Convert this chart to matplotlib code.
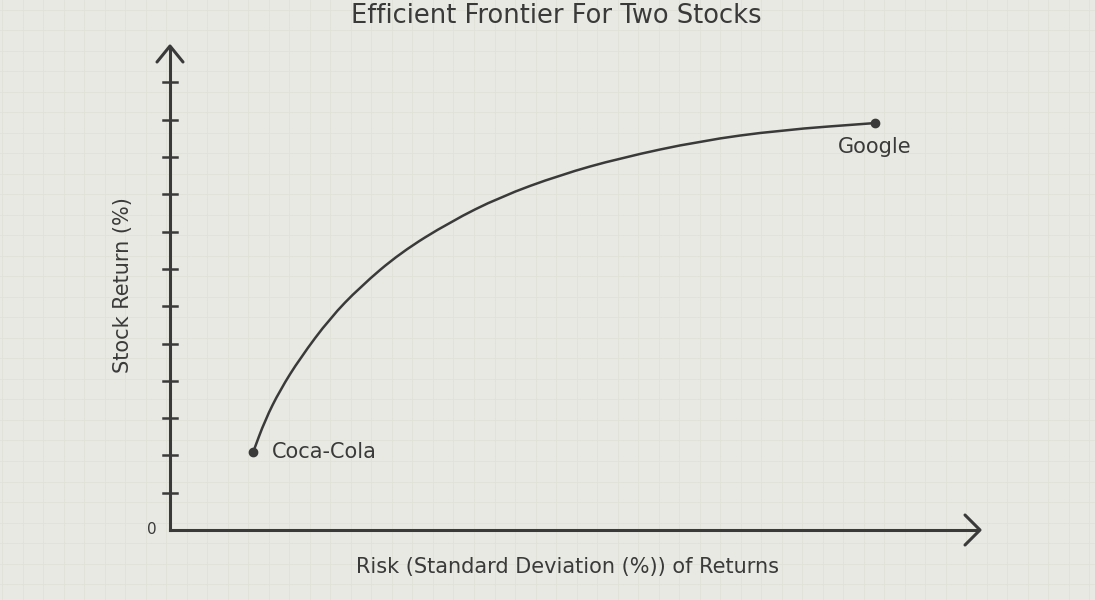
import matplotlib
matplotlib.use("Agg")
import matplotlib.pyplot as plt
from matplotlib.path import Path
from matplotlib.patches import PathPatch
import numpy as np

frontier_risk = [2.23, 2.55, 2.95, 3.49, 4.29, 5.09, 6.17, 7.51, 8.85, 10.46, 12.06, 14.21, 16.35, 18.9]
frontier_ret = [2.09, 2.95, 3.75, 4.61, 5.68, 6.51, 7.43, 8.26, 8.93, 9.52, 9.97, 10.43, 10.72, 10.91]
stock_names = ["Coca-Cola", "Google"]
y_ticks = list(range(1, 13))

S = 37.3
fig = plt.figure(figsize=(10.95, 6.0), dpi=100)
bg = "#e8e9e2"
fig.patch.set_facecolor(bg)
ax = fig.add_axes([0, 0, 1, 1])
ax.set_facecolor(bg)
ax.set_xlim(-170 / S, (1095 - 170) / S)
ax.set_ylim(-70 / S, 530 / S)
ax.axis("off")

for gx in np.arange(-4.5, 25, 0.55):
    ax.axvline(gx, color="#e0e1d9", lw=0.6, zorder=0)
for gy in np.arange(-2, 14.5, 0.55):
    ax.axhline(gy, color="#e0e1d9", lw=0.6, zorder=0)

c = "#3a3a3a"
ax.plot([0, (978 - 170) / S], [0, 0], color=c, lw=2.2)
ax.plot([0, 0], [0, (530 - 48) / S], color=c, lw=2.2)
ax.plot([(965 - 170) / S, (980 - 170) / S, (965 - 170) / S], [15 / S, 0, -15 / S], color=c, lw=2.2, solid_capstyle="round")
ax.plot([-13 / S, 0, 13 / S], [(530 - 62) / S, (530 - 46) / S, (530 - 62) / S], color=c, lw=2.2, solid_capstyle="round")
for t in y_ticks:
    ax.plot([-7 / S, 7 / S], [t, t], color=c, lw=1.8)

# smooth rendering of the frontier through quadratic segments
pts = list(zip(frontier_risk, frontier_ret))
verts = [pts[0]]
codes = [Path.MOVETO]
mids = [((pts[i][0] + pts[i + 1][0]) / 2, (pts[i][1] + pts[i + 1][1]) / 2) for i in range(len(pts) - 1)]
verts.append(mids[0]); codes.append(Path.LINETO)
for i in range(1, len(pts) - 1):
    verts += [pts[i], mids[i]]
    codes += [Path.CURVE3, Path.CURVE3]
verts.append(pts[-1]); codes.append(Path.LINETO)
ax.add_patch(PathPatch(Path(verts, codes), fill=False, edgecolor=c, lw=1.8))

ax.plot([frontier_risk[0], frontier_risk[-1]], [frontier_ret[0], frontier_ret[-1]], "o", color=c, ms=6)
ax.text(frontier_risk[0] + 0.5, frontier_ret[0], stock_names[0], fontsize=15, color=c, va="center", ha="left")
ax.text(frontier_risk[-1], frontier_ret[-1] - 0.65, stock_names[1], fontsize=15, color=c, va="center", ha="center")

ax.text(-18 / S, 0.0, "0", fontsize=11, color=c, ha="center", va="center")
ax.text((568 - 170) / S, -37 / S, "Risk (Standard Deviation (%)) of Returns", fontsize=15, color=c, ha="center", va="center")
ax.text(-47 / S, (530 - 285) / S, "Stock Return (%)", fontsize=15, color=c, ha="center", va="center", rotation=90)
ax.text((556 - 170) / S, (530 - 16) / S, "Efficient Frontier For Two Stocks", fontsize=18.5, color=c, ha="center", va="center", fontweight="medium")

fig.savefig("out.png", dpi=100, facecolor=bg)
